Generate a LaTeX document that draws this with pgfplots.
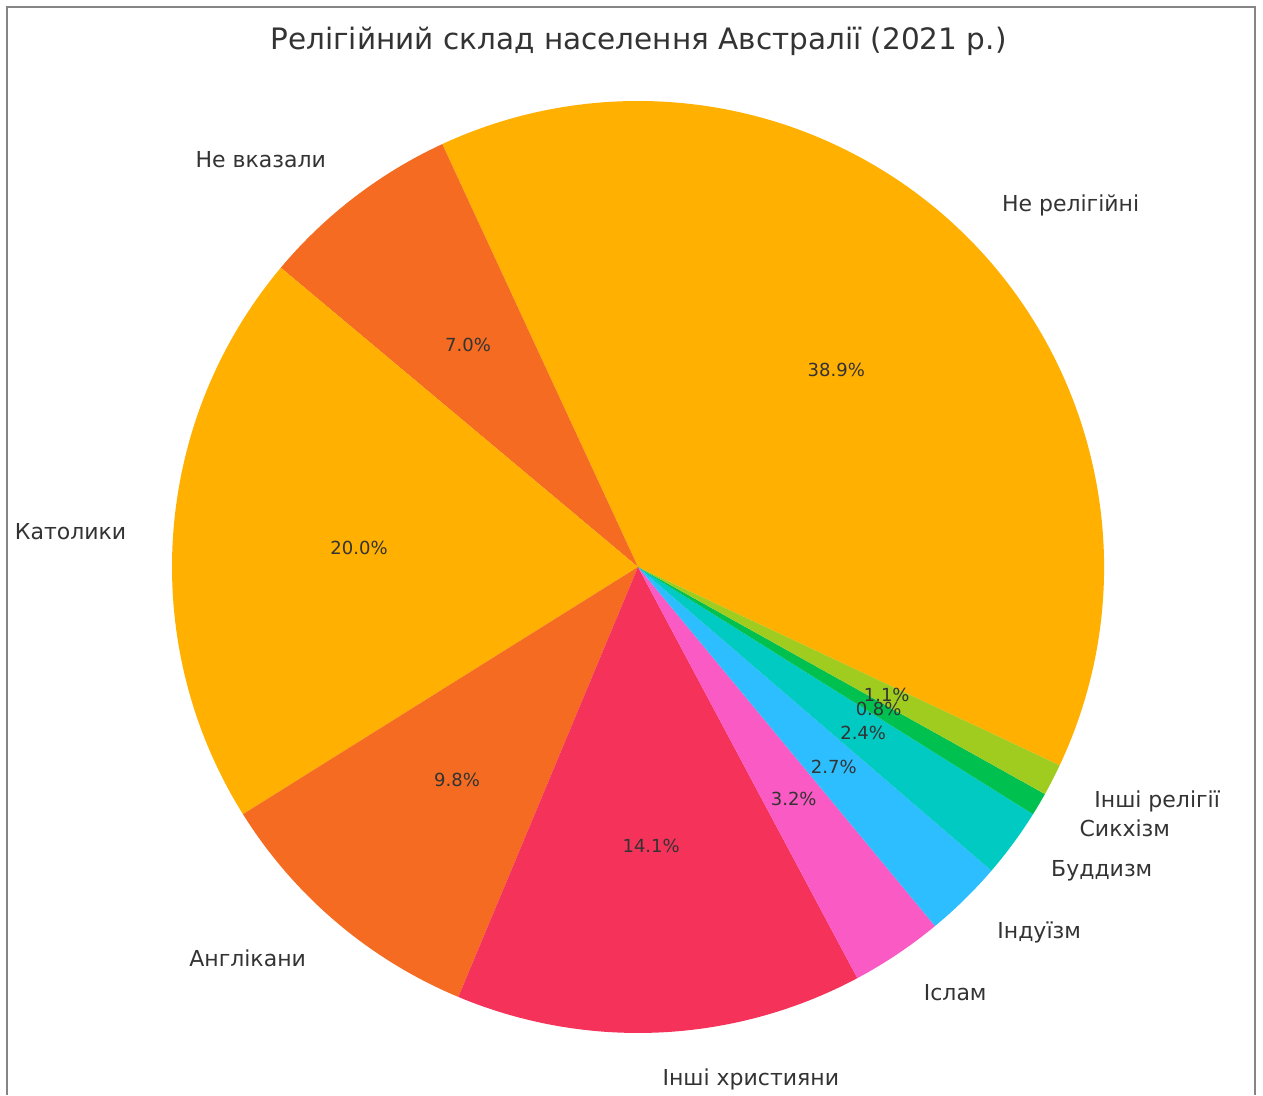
\documentclass[border=0pt]{standalone}
\usepackage{pgfplots}
\pgfplotsset{compat=1.18}
\usepackage{pgfplotstable}
\usepackage{fontspec}
\setmainfont{DejaVu Sans}
\definecolor{camber}{HTML}{FFB000}
\definecolor{corange}{HTML}{F46B21}
\definecolor{ccrimson}{HTML}{F5325A}
\definecolor{cpink}{HTML}{F95AC4}
\definecolor{csky}{HTML}{2CBEFE}
\definecolor{cteal}{HTML}{00CAC2}
\definecolor{cgreen}{HTML}{00C050}
\definecolor{clime}{HTML}{A0CB1F}
\definecolor{txt}{HTML}{333333}
\definecolor{framegray}{HTML}{858585}

\pgfplotstableread[col sep=comma]{
label,value,color
Не релігійні,38.9,camber
Не вказали,7.0,corange
Католики,20.0,camber
Англікани,9.8,corange
Інші християни,14.1,ccrimson
Іслам,3.2,cpink
Індуїзм,2.7,csky
Буддизм,2.4,cteal
Сикхізм,0.8,cgreen
Інші релігії,1.1,clime
}\piedata

\xdef\cum{-25.2}
\foreach \i in {0,...,9}{%
  \pgfplotstablegetelem{\i}{value}\of\piedata
  \xdef\curval{\pgfplotsretval}%
  \expandafter\xdef\csname val\i\endcsname{\curval}%
  \pgfmathsetmacro\a{\cum}%
  \pgfmathsetmacro\b{\cum+3.6*\curval}%
  \pgfmathsetmacro\m{(\a+\b)/2}%
  \expandafter\xdef\csname sA\i\endcsname{\a}%
  \expandafter\xdef\csname sB\i\endcsname{\b}%
  \expandafter\xdef\csname sM\i\endcsname{\m}%
  \pgfmathtruncatemacro\side{cos(\m)>0}%
  \ifnum\side=1 \expandafter\xdef\csname anc\i\endcsname{west}%
  \else \expandafter\xdef\csname anc\i\endcsname{east}\fi
  \pgfplotstablegetelem{\i}{label}\of\piedata
  \expandafter\xdef\csname lab\i\endcsname{\pgfplotsretval}%
  \pgfplotstablegetelem{\i}{color}\of\piedata
  \expandafter\xdef\csname col\i\endcsname{\pgfplotsretval}%
  \xdef\cum{\b}%
}

\tikzset{
  lab/.style={font=\fontsize{11}{13}\selectfont, text=txt, inner sep=0pt},
  pct/.style={font=\fontsize{9}{11}\selectfont, text=txt, inner sep=0pt},
}

\begin{document}
\begin{tikzpicture}
\begin{axis}[x=0.5pt, y=0.5pt, xmin=0, xmax=1263, ymin=0, ymax=1095,
  hide axis, clip=false]
\path (axis cs:0,0) rectangle (axis cs:1263,1095);
\draw[framegray, line width=1pt] (axis cs:7,0) -- (axis cs:7,1088) -- (axis cs:1255,1088) -- (axis cs:1255,0);
\pgfplotsinvokeforeach{0,...,9}{%
  \edef\temp{\noexpand\fill[fill=\csname col#1\endcsname] (axis cs:638,528) -- ++(\csname sA#1\endcsname:233pt) arc[start angle=\csname sA#1\endcsname, end angle=\csname sB#1\endcsname, radius=233pt] -- cycle;}%
  \temp
}
\pgfplotsinvokeforeach{0,...,9}{%
  \edef\temp{\noexpand\node[lab, anchor=\csname anc#1\endcsname] at ([shift={(\csname sM#1\endcsname:256.3pt)}]axis cs:638,528) {\csname lab#1\endcsname};}%
  \temp
  \edef\temp{\noexpand\node[pct] at ([shift={(\csname sM#1\endcsname:139.8pt)}]axis cs:638,528) {\csname val#1\endcsname\noexpand\%};}%
  \temp
}
\node[font=\fontsize{14.75}{17}\selectfont, text=txt] at (axis cs:638.5,1054) {Релігійний склад населення Австралії (2021 р.)};
\end{axis}
\end{tikzpicture}
\end{document}
